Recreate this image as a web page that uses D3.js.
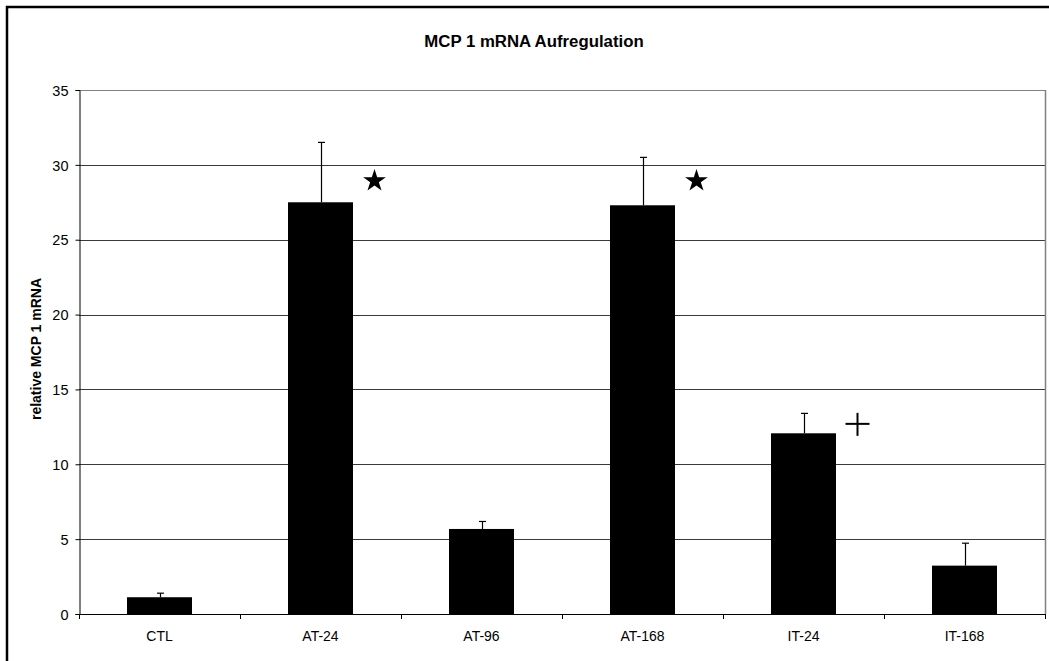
<!DOCTYPE html>
<html><head><meta charset="utf-8">
<script src="https://cdn.jsdelivr.net/npm/d3@7"></script>
<style>
html,body{margin:0;padding:0;background:#fff;}
svg{display:block;font-family:Arial,"Liberation Sans",sans-serif;}
</style></head>
<body><svg id="c" width="1049" height="661"></svg>
<script>
const categories = ["CTL","AT-24","AT-96","AT-168","IT-24","IT-168"];
const values = [1.12, 27.5, 5.68, 27.3, 12.07, 3.23];
const errors = [0.27, 4.0, 0.5, 3.2, 1.33, 1.5];
const yTicks = [0,5,10,15,20,25,30,35];
const marks = [{cat:"AT-24", sym:"star", v:29.0},{cat:"AT-168", sym:"star", v:29.0},{cat:"IT-24", sym:"plus", v:12.7}];
const title = "MCP 1 mRNA Aufregulation";
const yTitle = "relative MCP 1 mRNA";

const svg = d3.select("#c");
const L=79, R=1045, T=90, B=614;
const x = d3.scaleBand().domain(categories).range([L,R]).paddingInner(0).paddingOuter(0);
const y = d3.scaleLinear().domain([0,35]).range([B,T]);
const barW = 65;

// outer border
svg.append("rect").attr("x",7).attr("y",7).attr("width",1060).attr("height",680)
  .attr("fill","none").attr("stroke","#000").attr("stroke-width",2.5);

// title
svg.append("text").attr("x",534).attr("y",47).attr("text-anchor","middle")
  .attr("font-size",16.8).attr("font-weight","bold").text(title);

// gridlines
svg.append("g").selectAll("line").data(yTicks.filter(d=>d>0)).join("line")
  .attr("x1",L).attr("x2",R).attr("y1",d=>Math.round(y(d))+0.5).attr("y2",d=>Math.round(y(d))+0.5)
  .attr("stroke",d=>d===35?"#808080":"#3a3a3a").attr("stroke-width",1);
// plot area right border
svg.append("line").attr("x1",R+0.5).attr("x2",R+0.5).attr("y1",T).attr("y2",B)
  .attr("stroke","#808080").attr("stroke-width",1.5);

// bars
svg.append("g").selectAll("rect").data(categories).join("rect")
  .attr("x",(d)=>x(d)+x.bandwidth()/2-barW/2).attr("width",barW)
  .attr("y",(d,i)=>y(values[i])).attr("height",(d,i)=>y(0)-y(values[i]))
  .attr("fill","#000");

// error bars
const eg = svg.append("g").attr("stroke","#000").attr("stroke-width",1.2);
categories.forEach((c,i)=>{
  const cx = Math.round(x(c)+x.bandwidth()/2)+0.5;
  eg.append("line").attr("x1",cx).attr("x2",cx).attr("y1",y(values[i])).attr("y2",y(values[i]+errors[i]));
  eg.append("line").attr("x1",cx-3.5).attr("x2",cx+3.5).attr("y1",y(values[i]+errors[i])).attr("y2",y(values[i]+errors[i]));
});

// y axis
const ya = d3.axisLeft(y).tickValues(yTicks).tickSize(4).tickPadding(7);
const yg = svg.append("g").attr("transform",`translate(${L+0.5},0)`).call(ya);
yg.select(".domain").attr("stroke","#000");
yg.selectAll(".tick line").attr("stroke","#000");
yg.selectAll("text").attr("font-size",14.5).attr("fill","#000").attr("dy","0.36em").attr("font-family","Arial,'Liberation Sans',sans-serif");

// x axis
svg.append("line").attr("x1",L).attr("x2",R).attr("y1",B+0.5).attr("y2",B+0.5).attr("stroke","#000");
const sep = categories.map(c=>x(c)).concat([R]);
svg.append("g").selectAll("line").data(sep).join("line")
  .attr("x1",d=>Math.round(d)+0.5).attr("x2",d=>Math.round(d)+0.5).attr("y1",B).attr("y2",B+5).attr("stroke","#000");
svg.append("g").selectAll("text").data(categories).join("text")
  .attr("x",d=>x(d)+x.bandwidth()/2).attr("y",641).attr("text-anchor","middle")
  .attr("font-size",14).text(d=>d);

// y title
svg.append("text").attr("transform",`translate(41,349) rotate(-90)`).attr("text-anchor","middle")
  .attr("font-size",14).attr("font-weight","bold").text(yTitle);

// significance marks
const star = d3.symbol().type(d3.symbolStar).size(160);
marks.forEach(m=>{
  const cx = x(m.cat)+x.bandwidth()/2;
  if(m.sym==="star"){
    svg.append("path").attr("d",star()).attr("transform",`translate(${cx+54},${y(m.v)+1})`).attr("fill","#000");
  } else {
    const px = cx+54, py = y(m.v);
    svg.append("line").attr("x1",px-12).attr("x2",px+12).attr("y1",py).attr("y2",py).attr("stroke","#000").attr("stroke-width",2);
    svg.append("line").attr("x1",px).attr("x2",px).attr("y1",py-11).attr("y2",py+12).attr("stroke","#000").attr("stroke-width",2);
  }
});
</script></body></html>
